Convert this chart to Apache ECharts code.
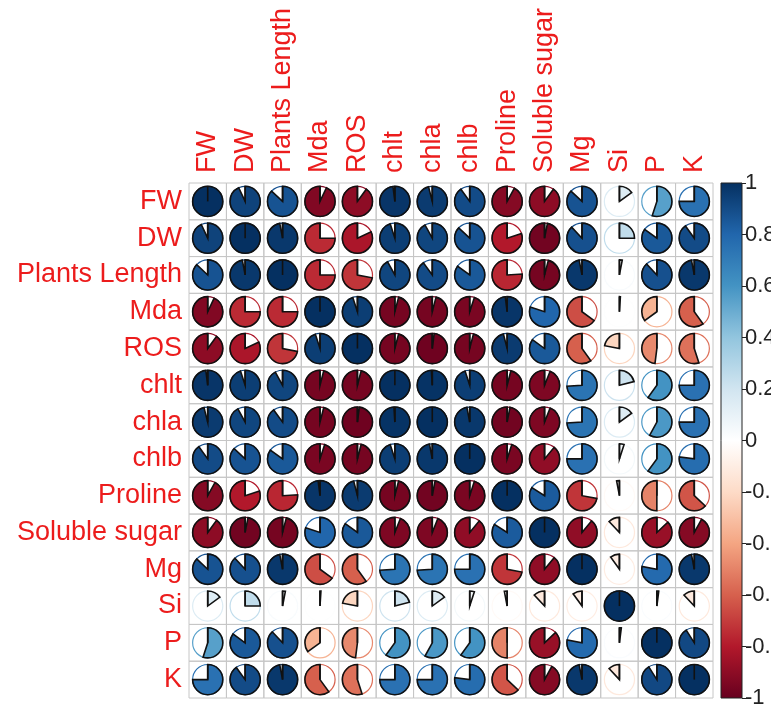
<!DOCTYPE html>
<html>
<head>
<meta charset="utf-8">
<script src="https://cdn.jsdelivr.net/npm/echarts@6/dist/echarts.min.js"></script>
<style>
  html, body { margin: 0; padding: 0; background: #ffffff; }
  #chart { width: 771px; height: 709px; }
</style>
</head>
<body>
<div id="chart"></div>
<script>
// Variables shown on both axes (same order for rows and columns)
const variables = ['FW', 'DW', 'Plants Length', 'Mda', 'ROS', 'chlt', 'chla', 'chlb',
  'Proline', 'Soluble sugar', 'Mg', 'Si', 'P', 'K'];

// Correlation coefficients, one row per variable (columns follow `variables`)
const rowFW      = [ 1.00,  0.93,  0.87, -0.93, -0.90,  0.98,  0.96,  0.90, -0.92, -0.90,  0.87,  0.15,  0.55,  0.75];
const rowDW      = [ 0.93,  1.00,  0.97, -0.75, -0.82,  0.95,  0.92,  0.87, -0.80, -0.97,  0.88,  0.25,  0.85,  0.90];
const rowLength  = [ 0.87,  0.97,  1.00, -0.75, -0.72,  0.92,  0.90,  0.85, -0.76, -0.96,  0.97,  0.03,  0.88,  0.97];
const rowMda     = [-0.93, -0.75, -0.75,  1.00,  0.95, -0.96, -0.96, -0.95,  0.98,  0.80, -0.65,  0.01, -0.35, -0.60];
const rowROS     = [-0.90, -0.82, -0.72,  0.95,  1.00, -0.96, -0.98, -0.96,  0.96,  0.85, -0.60, -0.22, -0.48, -0.55];
const rowChlt    = [ 0.98,  0.95,  0.92, -0.96, -0.96,  1.00,  0.99,  0.95, -0.96, -0.94,  0.74,  0.21,  0.60,  0.75];
const rowChla    = [ 0.96,  0.92,  0.90, -0.96, -0.98,  0.99,  1.00,  0.97, -0.97, -0.94,  0.74,  0.15,  0.58,  0.75];
const rowChlb    = [ 0.90,  0.87,  0.85, -0.95, -0.96,  0.95,  0.97,  1.00, -0.95, -0.89,  0.75,  0.05,  0.60,  0.77];
const rowProline = [-0.92, -0.80, -0.76,  0.98,  0.96, -0.96, -0.97, -0.95,  1.00,  0.84, -0.72, -0.03, -0.50, -0.63];
const rowSugar   = [-0.90, -0.97, -0.96,  0.80,  0.85, -0.94, -0.94, -0.89,  0.84,  1.00, -0.89, -0.12, -0.87, -0.92];
const rowMg      = [ 0.87,  0.88,  0.97, -0.65, -0.60,  0.74,  0.74,  0.75, -0.72, -0.89,  1.00, -0.10,  0.78,  0.97];
const rowSi      = [ 0.15,  0.25,  0.03,  0.01, -0.22,  0.21,  0.15,  0.05, -0.03, -0.12, -0.10,  1.00,  0.02, -0.12];
const rowP       = [ 0.55,  0.85,  0.88, -0.35, -0.48,  0.60,  0.58,  0.60, -0.50, -0.87,  0.78,  0.02,  1.00,  0.91];
const rowK       = [ 0.75,  0.90,  0.97, -0.60, -0.55,  0.75,  0.75,  0.77, -0.63, -0.92,  0.97, -0.12,  0.91,  1.00];

const corrRows = [rowFW, rowDW, rowLength, rowMda, rowROS, rowChlt, rowChla, rowChlb,
  rowProline, rowSugar, rowMg, rowSi, rowP, rowK];

// Diverging red-white-blue ramp, from -1 to +1
const palette = ['#67001F', '#B2182B', '#D6604D', '#F4A582', '#FDDBC7', '#FFFFFF',
  '#D1E5F0', '#92C5DE', '#4393C3', '#2166AC', '#053061'];

const labelRed = '#EC1C1C';
const fontFamily = '"Liberation Sans", Arial, sans-serif';

// [column, row, r] triples for the custom series
const cells = [];
corrRows.forEach((row, i) => row.forEach((r, j) => cells.push([j, i, r])));

function renderPie(params, api) {
  const c = api.coord([api.value(0), api.value(1)]);
  const size = api.size([1, 1]);
  const w = size[0], h = size[1];
  const radius = Math.min(w, h) * 0.41;
  const r = api.value(2);
  const color = api.visual('color');
  const start = -Math.PI / 2;
  const end = start + 2 * Math.PI * r;
  return {
    type: 'group',
    children: [
      { type: 'rect', shape: { x: c[0] - w / 2, y: c[1] - h / 2, width: w, height: h },
        style: { fill: null, stroke: '#C6C6C6', lineWidth: 1 } },
      { type: 'circle', shape: { cx: c[0], cy: c[1], r: radius },
        style: { fill: null, stroke: color, lineWidth: 1.2 } },
      { type: 'sector',
        shape: { cx: c[0], cy: c[1], r: radius, r0: 0, startAngle: start, endAngle: end, clockwise: r >= 0 },
        style: { fill: color, stroke: '#111111', lineWidth: 1.6 } },
      { type: 'line', shape: { x1: c[0], y1: c[1], x2: c[0], y2: c[1] - radius },
        style: { stroke: '#111111', lineWidth: 1.6 } }
    ]
  };
}

function renderColorbar(params, api) {
  const top = api.coord([0, 1]);
  const bottom = api.coord([0, -1]);
  const cs = params.coordSys;
  const stops = palette.slice().reverse().map((col, i) => ({ offset: i / (palette.length - 1), color: col }));
  return {
    type: 'rect',
    shape: { x: cs.x, y: top[1], width: cs.width, height: bottom[1] - top[1] },
    style: { fill: new echarts.graphic.LinearGradient(0, 0, 0, 1, stops), stroke: '#222222', lineWidth: 1 }
  };
}

const chart = echarts.init(document.getElementById('chart'), null, { renderer: 'canvas' });

chart.setOption({
  backgroundColor: '#ffffff',
  animation: false,
  grid: [
    { left: 189, top: 183, width: 524, height: 515, outerBoundsMode: 'none', containLabel: false },
    { left: 721, top: 183, width: 21, height: 515, outerBoundsMode: 'none', containLabel: false }
  ],
  xAxis: [
    {
      type: 'category', gridIndex: 0, data: variables, position: 'top',
      axisLine: { show: false }, axisTick: { show: false }, splitLine: { show: false },
      axisLabel: { rotate: -90, interval: 0, margin: 10, color: labelRed, fontSize: 27, fontFamily: fontFamily }
    },
    {
      type: 'category', gridIndex: 1, data: [''],
      axisLine: { show: false }, axisTick: { show: false }, axisLabel: { show: false }, splitLine: { show: false }
    }
  ],
  yAxis: [
    {
      type: 'category', gridIndex: 0, data: variables, inverse: true,
      axisLine: { show: false }, axisTick: { show: false }, splitLine: { show: false },
      axisLabel: { interval: 0, margin: 7, color: labelRed, fontSize: 27, fontFamily: fontFamily }
    },
    {
      type: 'value', gridIndex: 1, min: -1, max: 1, interval: 0.2, position: 'right',
      axisLine: { show: false }, splitLine: { show: false },
      axisTick: { show: true, length: 4, lineStyle: { color: '#222222', width: 1 } },
      axisLabel: {
        margin: 3, color: '#222222', fontSize: 22, fontFamily: fontFamily,
        formatter: v => String(+v.toFixed(1))
      }
    }
  ],
  visualMap: {
    show: false, type: 'continuous', min: -1, max: 1, dimension: 2, seriesIndex: 0,
    inRange: { color: palette }
  },
  series: [
    { type: 'custom', xAxisIndex: 0, yAxisIndex: 0, data: cells, renderItem: renderPie },
    { type: 'custom', xAxisIndex: 1, yAxisIndex: 1, data: [[0, 0]], renderItem: renderColorbar, silent: true }
  ]
});
</script>
</body>
</html>
